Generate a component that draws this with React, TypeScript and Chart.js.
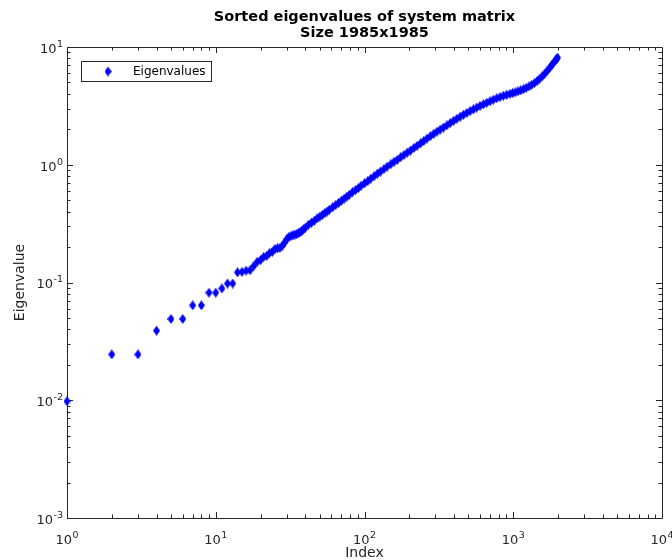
import { useEffect, useRef } from 'react';
import { Chart, registerables } from 'chart.js';

Chart.register(...registerables);

const titleLines = ['Sorted eigenvalues of system matrix', 'Size 1985x1985'];
const seriesName = 'Eigenvalues';
const xAxisLabel = 'Index';
const yAxisLabel = 'Eigenvalue';

const indices = [
  1, 2, 3, 4, 5, 6, 7, 8, 9, 10, 11, 12, 13, 14, 15, 16, 17, 18, 19, 20,
  21, 22, 23, 24, 25, 26, 27, 28, 29, 30, 31, 32, 33, 34, 35, 36,
  37, 38, 39, 40, 42, 44, 46, 48, 50, 52, 54, 56, 58, 61, 64, 67, 70, 73, 76, 79,
  83, 87, 91, 95, 100, 105, 110, 116, 122, 128, 135, 142, 150, 158, 166, 175,
  184, 194, 204, 215, 226, 238, 250, 263, 277, 292, 307, 323, 340, 358, 377, 397,
  418, 440, 463, 487, 513, 540, 568, 598, 630, 663, 698, 735, 774, 815, 858, 903,
  950, 990, 1030, 1075, 1120, 1170, 1220, 1275, 1330, 1390, 1450, 1510, 1570, 1630,
  1690, 1750, 1810, 1865, 1920, 1960, 1985,
];

const eigenvalues = [
  0.0098, 0.0245, 0.0245, 0.039, 0.049, 0.049, 0.064, 0.064, 0.082, 0.082, 0.089, 0.098, 0.098,
  0.122, 0.123, 0.126, 0.127, 0.138, 0.150, 0.155,
  0.165, 0.168, 0.178, 0.182, 0.193, 0.195, 0.197, 0.205, 0.218, 0.232, 0.244, 0.248, 0.252, 0.255, 0.258, 0.262,
  0.268, 0.275, 0.284, 0.292, 0.31, 0.322, 0.335, 0.35, 0.362, 0.375, 0.388, 0.40, 0.415, 0.435, 0.455, 0.475,
  0.495, 0.515, 0.535, 0.556,
  0.585, 0.61, 0.635, 0.665, 0.695, 0.725, 0.76, 0.80, 0.84, 0.875, 0.92, 0.965, 1.01, 1.06, 1.1, 1.16,
  1.21, 1.27, 1.32, 1.39, 1.45, 1.52, 1.59, 1.67, 1.75, 1.83, 1.91, 1.99, 2.07, 2.16, 2.26, 2.36,
  2.46, 2.56, 2.66, 2.75, 2.86, 2.96, 3.06, 3.16, 3.26, 3.36, 3.46, 3.57, 3.67, 3.76, 3.85, 3.93,
  4.0, 4.06, 4.12, 4.2, 4.28, 4.38, 4.5, 4.62, 4.77, 4.95, 5.15, 5.4, 5.66, 5.95,
  6.27, 6.62, 6.98, 7.33, 7.68, 7.95, 8.12,
];

const xTickValues = [1, 10, 100, 1000, 10000];
const xTickBase = '10';
const xTickExponents = ['0', '1', '2', '3', '4'];
const yTickValues = [0.001, 0.01, 0.1, 1, 10];
const yTickBase = '10';
const yTickExponents = ['-3', '-2', '-1', '0', '1'];

const FONT = "'DejaVu Sans', sans-serif";
const AXIS_COLOR = '#262626';
const MARKER_COLOR = '#0000ff';

function makeDiamond(): HTMLCanvasElement {
  const c = document.createElement('canvas');
  c.width = 7;
  c.height = 10;
  const g = c.getContext('2d')!;
  g.fillStyle = MARKER_COLOR;
  g.beginPath();
  g.moveTo(3.5, 0);
  g.lineTo(7, 5);
  g.lineTo(3.5, 10);
  g.lineTo(0, 5);
  g.closePath();
  g.fill();
  return c;
}

function drawPowerLabel(
  ctx: CanvasRenderingContext2D,
  base: string,
  exp: string,
  anchorX: number,
  midY: number,
  align: 'center' | 'right'
) {
  const baseFont = `13px ${FONT}`;
  const expFont = `9.5px ${FONT}`;
  ctx.font = baseFont;
  const w1 = ctx.measureText(base).width;
  ctx.font = expFont;
  const w2 = ctx.measureText(exp).width;
  const total = w1 + w2 + 0.5;
  const startX = align === 'center' ? anchorX - total / 2 : anchorX - total;
  const baseline = midY + 4.8;
  ctx.textAlign = 'left';
  ctx.textBaseline = 'alphabetic';
  ctx.font = baseFont;
  ctx.fillText(base, startX, baseline);
  ctx.font = expFont;
  ctx.fillText(exp, startX + w1 + 0.5, baseline - 6);
}

export default function App() {
  const canvasRef = useRef<HTMLCanvasElement | null>(null);

  useEffect(() => {
    if (!canvasRef.current) return;
    const diamond = makeDiamond();

    const framePlugin = {
      id: 'matlabFrame',
      beforeDatasetsDraw(chart: any) {
        const { ctx, chartArea } = chart;
        const { left, right, top, bottom } = chartArea;
        const xs = chart.scales.x;
        const ys = chart.scales.y;
        ctx.save();
        ctx.strokeStyle = AXIS_COLOR;
        ctx.lineWidth = 1;
        ctx.beginPath();
        ctx.rect(Math.round(left) + 0.5, Math.round(top) + 0.5, Math.round(right - left), Math.round(bottom - top));
        const majorLen = 6;
        const minorLen = 3.5;
        for (let k = 0; k < 4; k++) {
          for (let m = 1; m <= 9; m++) {
            const v = m * Math.pow(10, k);
            const px = Math.round(xs.getPixelForValue(v)) + 0.5;
            const len = m === 1 ? majorLen : minorLen;
            ctx.moveTo(px, bottom);
            ctx.lineTo(px, bottom - len);
            ctx.moveTo(px, top);
            ctx.lineTo(px, top + len);
          }
        }
        for (let k = -3; k < 1; k++) {
          for (let m = 1; m <= 9; m++) {
            const v = m * Math.pow(10, k);
            const py = Math.round(ys.getPixelForValue(v)) + 0.5;
            const len = m === 1 ? majorLen : minorLen;
            ctx.moveTo(left, py);
            ctx.lineTo(left + len, py);
            ctx.moveTo(right, py);
            ctx.lineTo(right - len, py);
          }
        }
        ctx.stroke();
        ctx.restore();

        // tick labels with superscript exponents
        ctx.save();
        ctx.fillStyle = AXIS_COLOR;
        xTickValues.forEach((v, i) => {
          drawPowerLabel(ctx, xTickBase, xTickExponents[i], xs.getPixelForValue(v), bottom + 21, 'center');
        });
        yTickValues.forEach((v, i) => {
          drawPowerLabel(ctx, yTickBase, yTickExponents[i], left - 4, ys.getPixelForValue(v) + 1, 'right');
        });
        ctx.restore();
      },
      afterDraw(chart: any) {
        const { ctx, chartArea } = chart;
        const { left, right, top } = chartArea;
        ctx.save();
        // title
        ctx.fillStyle = '#000000';
        ctx.font = `bold 14.5px ${FONT}`;
        ctx.textAlign = 'center';
        ctx.textBaseline = 'middle';
        const cx = (left + right) / 2;
        ctx.fillText(titleLines[0], cx, top - 30);
        ctx.fillText(titleLines[1], cx, top - 14);
        // legend
        const lx = left + 14;
        const ly = top + 14;
        const lw = 130;
        const lh = 20;
        ctx.fillStyle = '#ffffff';
        ctx.fillRect(lx, ly, lw, lh);
        ctx.strokeStyle = AXIS_COLOR;
        ctx.lineWidth = 1;
        ctx.strokeRect(Math.round(lx) + 0.5, Math.round(ly) + 0.5, lw, lh);
        ctx.drawImage(diamond, lx + 27 - diamond.width / 2, ly + lh / 2 - diamond.height / 2 + 0.5);
        ctx.fillStyle = '#000000';
        ctx.font = `12px ${FONT}`;
        ctx.textAlign = 'left';
        ctx.textBaseline = 'middle';
        ctx.fillText(seriesName, lx + 52, ly + lh / 2 + 1);
        ctx.restore();
      },
    };

    const chart = new Chart(canvasRef.current, {
      type: 'scatter',
      data: {
        datasets: [
          {
            label: seriesName,
            data: indices.map((ix, i) => ({ x: ix, y: eigenvalues[i] })),
            pointStyle: diamond as any,
            pointRadius: 4,
            backgroundColor: MARKER_COLOR,
            borderColor: MARKER_COLOR,
            clip: false as any,
          },
        ],
      },
      options: {
        animation: false,
        responsive: true,
        maintainAspectRatio: false,
        layout: { padding: { top: 47, right: 10, left: 0, bottom: 0 } },
        plugins: {
          legend: { display: false },
          title: { display: false },
          tooltip: { enabled: false },
        },
        scales: {
          x: {
            type: 'logarithmic',
            min: 1,
            max: 10000,
            grid: { display: false, drawTicks: false },
            border: { display: false },
            afterBuildTicks: (s: any) => {
              s.ticks = xTickValues.map((v) => ({ value: v }));
            },
            afterFit: (s: any) => {
              s.height = 42;
              s.paddingLeft = 0;
              s.paddingRight = 0;
            },
            ticks: { display: false },
            title: {
              display: true,
              text: xAxisLabel,
              color: AXIS_COLOR,
              font: { family: FONT, size: 14, lineHeight: 0.95 },
              padding: { top: 0, bottom: 0 },
            },
          },
          y: {
            type: 'logarithmic',
            min: 0.001,
            max: 10,
            grid: { display: false, drawTicks: false },
            border: { display: false },
            afterBuildTicks: (s: any) => {
              s.ticks = yTickValues.map((v) => ({ value: v }));
            },
            afterFit: (s: any) => {
              s.width = 67;
              s.paddingTop = 0;
              s.paddingBottom = 0;
            },
            ticks: { display: false },
            title: {
              display: true,
              text: yAxisLabel,
              color: AXIS_COLOR,
              font: { family: FONT, size: 14 },
              padding: { top: 12, bottom: 0 },
            },
          },
        },
      },
      plugins: [framePlugin],
    });

    return () => {
      chart.destroy();
    };
  }, []);

  return (
    <div style={{ position: 'fixed', left: 0, top: 0, width: 672, height: 560, background: '#ffffff' }}>
      <canvas ref={canvasRef} />
    </div>
  );
}
